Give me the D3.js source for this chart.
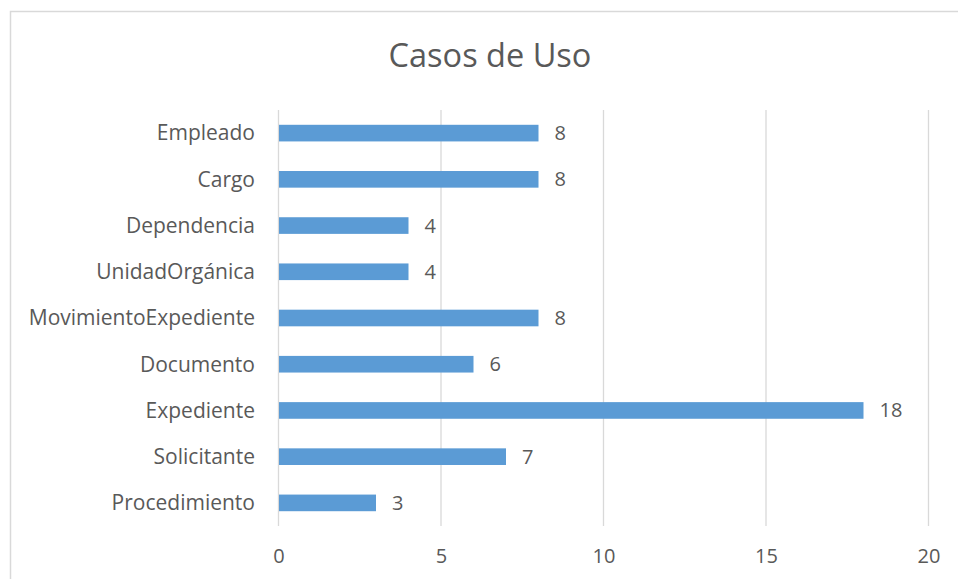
<!DOCTYPE html>
<html>
<head>
<meta charset="utf-8">
<script src="https://cdn.jsdelivr.net/npm/d3@7"></script>
<style>
  html, body { margin: 0; padding: 0; background: #fff; }
  svg { display: block; }
  text { font-family: "Open Sans", "Noto Sans", sans-serif; fill: #595959; }
</style>
</head>
<body>
<svg id="chart" width="958" height="579"></svg>
<script>
// Use cases per entity
const categories = ["Empleado", "Cargo", "Dependencia", "UnidadOrgánica", "MovimientoExpediente", "Documento", "Expediente", "Solicitante", "Procedimiento"];
const values = [8, 8, 4, 4, 8, 6, 18, 7, 3];
const tickValues = [0, 5, 10, 15, 20];
const title = "Casos de Uso";

const svg = d3.select("#chart");
const FONT = "'Open Sans', 'Noto Sans', sans-serif";

// Chart frame
svg.append("rect")
  .attr("x", 10.5).attr("y", 11.5)
  .attr("width", 960).attr("height", 600)
  .attr("fill", "#fff").attr("stroke", "#d9d9d9").attr("stroke-width", 1.5);

const plot = { left: 278.5, right: 928.5, top: 110, bottom: 526 };

const x = d3.scaleLinear().domain([0, 20]).range([plot.left, plot.right]);
const y = d3.scaleBand().domain(categories).range([plot.top, plot.bottom]).paddingInner(0.64).paddingOuter(0.32);

// Vertical gridlines
svg.append("g").selectAll("line")
  .data(tickValues)
  .join("line")
  .attr("x1", d => x(d)).attr("x2", d => x(d))
  .attr("y1", plot.top).attr("y2", plot.bottom)
  .attr("stroke", "#d9d9d9").attr("stroke-width", 1.3);

// Bars
svg.append("g").selectAll("rect")
  .data(categories)
  .join("rect")
  .attr("x", x(0) + 0.5)
  .attr("y", d => y(d))
  .attr("width", (d, i) => x(values[i]) - x(0) - 0.5)
  .attr("height", y.bandwidth())
  .attr("fill", "#5b9bd5");

// Value labels
svg.append("g").selectAll("text")
  .data(categories)
  .join("text")
  .attr("x", (d, i) => x(values[i]) + 16)
  .attr("y", d => y(d) + y.bandwidth() / 2)
  .attr("dy", "0.35em")
  .attr("font-size", 20)
  .text((d, i) => values[i]);

// Category axis labels
svg.append("g").selectAll("text")
  .data(categories)
  .join("text")
  .attr("x", 255)
  .attr("y", d => y(d) + y.bandwidth() / 2)
  .attr("dy", "0.35em")
  .attr("text-anchor", "end")
  .attr("font-size", 21)
  .text(d => d);

// Value axis tick labels
const axis = d3.axisBottom(x).tickValues(tickValues).tickSize(0).tickPadding(0);
const gAxis = svg.append("g").attr("transform", `translate(0, 556)`).call(axis);
gAxis.select(".domain").remove();
gAxis.selectAll("text")
  .attr("font-size", 20)
  .attr("font-family", FONT)
  .attr("fill", "#595959")
  .attr("dy", "0.35em")
  .attr("y", 0);

// Title
svg.append("text")
  .attr("x", 490).attr("y", 56)
  .attr("dy", "0.35em")
  .attr("text-anchor", "middle")
  .attr("font-size", 32.5)
  .text(title);
</script>
</body>
</html>
